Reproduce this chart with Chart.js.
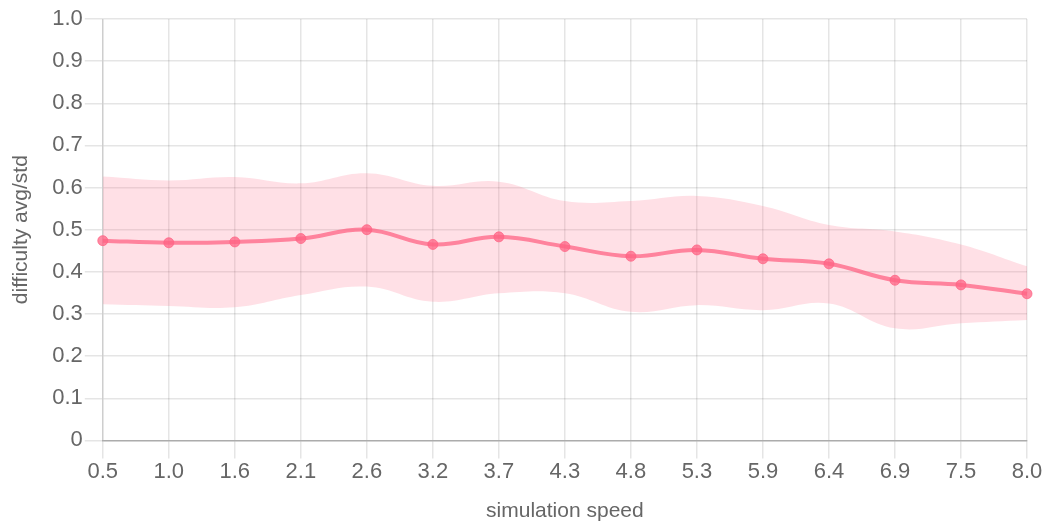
<!DOCTYPE html>
<html>
<head>
<meta charset="utf-8">
<script src="https://cdn.jsdelivr.net/npm/chart.js@4/dist/chart.umd.min.js"></script>
<style>
  html, body { margin: 0; padding: 0; background: #fff; }
  #wrap { width: 1055px; height: 528px; position: relative; }
</style>
</head>
<body>
<div id="wrap"><canvas id="c"></canvas></div>
<script>
// simulation speed categories
const speeds = ['0.5', '1.0', '1.6', '2.1', '2.6', '3.2', '3.7', '4.3', '4.8', '5.3', '5.9', '6.4', '6.9', '7.5', '8.0'];
// average difficulty per speed
const avgDifficulty = [0.474, 0.469, 0.471, 0.479, 0.500, 0.465, 0.483, 0.460, 0.437, 0.452, 0.431, 0.419, 0.380, 0.369, 0.348];
// upper / lower edge of the spread band (avg ± std)
const bandUpper = [0.626, 0.617, 0.625, 0.610, 0.634, 0.604, 0.614, 0.568, 0.568, 0.580, 0.556, 0.511, 0.496, 0.465, 0.413];
const bandLower = [0.323, 0.319, 0.316, 0.345, 0.365, 0.329, 0.349, 0.349, 0.305, 0.321, 0.309, 0.325, 0.266, 0.278, 0.286];
// y-axis tick values
const yTicks = [0, 0.1, 0.2, 0.3, 0.4, 0.5, 0.6, 0.7, 0.8, 0.9, 1.0];

const red = 'rgba(255, 99, 132, 0.75)';
const band = 'rgba(255, 99, 132, 0.2)';
const fontFamily = '"Liberation Sans", Arial, Helvetica, sans-serif';
const textColor = '#666';
const gridColor = 'rgba(0, 0, 0, 0.1)';

new Chart(document.getElementById('c'), {
  type: 'line',
  data: {
    labels: speeds,
    datasets: [
      {
        label: 'lower',
        data: bandLower,
        borderWidth: 0,
        borderColor: 'rgba(0,0,0,0)',
        pointRadius: 0,
        fill: false,
        tension: 0.4,
        order: 3
      },
      {
        label: 'upper',
        data: bandUpper,
        borderWidth: 0,
        borderColor: 'rgba(0,0,0,0)',
        backgroundColor: band,
        pointRadius: 0,
        fill: '-1',
        tension: 0.4,
        order: 2
      },
      {
        label: 'avg',
        data: avgDifficulty,
        borderColor: red,
        backgroundColor: red,
        pointBackgroundColor: red,
        pointBorderColor: red,
        borderWidth: 4,
        pointRadius: 5,
        pointBorderWidth: 1,
        fill: false,
        tension: 0.4,
        order: 1
      }
    ]
  },
  options: {
    responsive: true,
    maintainAspectRatio: false,
    animation: false,
    layout: { padding: { left: 2, right: 28, top: 19, bottom: 2 } },
    plugins: {
      legend: { display: false },
      tooltip: { enabled: false }
    },
    scales: {
      x: {
        type: 'category',
        offset: false,
        grid: { color: gridColor, tickLength: 18, lineWidth: 1.5 },
        border: { color: 'rgba(0,0,0,0.25)', width: 1.5 },
        ticks: {
          color: textColor,
          font: { family: fontFamily, size: 22 },
          padding: 0,
          maxRotation: 0,
          autoSkip: false
        },
        title: {
          display: true,
          text: 'simulation speed',
          color: textColor,
          font: { family: fontFamily, size: 21 },
          padding: { top: 14, bottom: 2 }
        }
      },
      y: {
        min: 0,
        max: 1,
        afterBuildTicks: (axis) => { axis.ticks = yTicks.map(v => ({ value: v })); },
        grid: { color: gridColor, tickLength: 18, lineWidth: 1.5 },
        border: { color: gridColor, width: 1.5 },
        ticks: {
          color: textColor,
          font: { family: fontFamily, size: 22 },
          padding: 2,
          callback: (v) => (v === 0 ? '0' : Number(v).toFixed(1))
        },
        title: {
          display: true,
          text: 'difficulty avg/std',
          color: textColor,
          font: { family: fontFamily, size: 21 },
          padding: { top: 7, bottom: 16 }
        }
      }
    }
  }
});
</script>
</body>
</html>
